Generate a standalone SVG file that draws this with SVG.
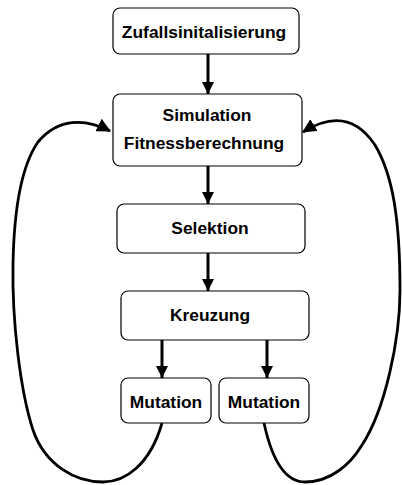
<svg xmlns="http://www.w3.org/2000/svg" width="402" height="485" viewBox="0 0 402 485">
<style>
.box{fill:#fff;stroke:#000;stroke-width:1.2}
.t{font-family:"Liberation Sans",Arial,sans-serif;font-weight:bold;font-size:17.4px;text-anchor:middle;fill:#000}
.a{fill:none;stroke:#000;stroke-width:3}
.l{fill:none;stroke:#000;stroke-width:2.8}
</style>
<defs>
<marker id="ah" markerUnits="userSpaceOnUse" markerWidth="12" markerHeight="12" refX="12" refY="6" orient="auto">
<path d="M0,0 L12,6 L0,12 z" fill="#000"/>
</marker>
<marker id="ah2" markerUnits="userSpaceOnUse" markerWidth="14" markerHeight="14" refX="13" refY="7" orient="auto">
<path d="M0,0 L14,7 L0,14 z" fill="#000"/>
</marker>
</defs>
<g id="connectors">
<line class="a" x1="208" y1="54" x2="208" y2="94" marker-end="url(#ah)"/>
<line class="a" x1="208" y1="166" x2="208" y2="204" marker-end="url(#ah)"/>
<line class="a" x1="208" y1="253" x2="208" y2="291" marker-end="url(#ah)"/>
<line class="a" x1="162" y1="340" x2="162" y2="378" marker-end="url(#ah)"/>
<line class="a" x1="267" y1="340" x2="267" y2="378" marker-end="url(#ah)"/>
<path class="l" d="M162,423 C150,465 125,482 103,482 C75,482 45,465 33,430 C20,390 12,320 13,265 C14,205 22,165 38,142 C58,118 85,118 110,131" marker-end="url(#ah2)"/>
<path class="l" d="M264,423 C272,460 285,482 305,482 C330,482 350,465 362,445 C385,410 400,340 400,290 C400,220 393,175 375,145 C355,115 330,115 303,132" marker-end="url(#ah2)"/>
</g>
<g id="n1"><rect class="box" x="113" y="8" width="186" height="46" rx="7"/><text class="t" x="204" y="38">Zufallsinitalisierung</text></g>
<g id="n2"><rect class="box" x="113" y="94" width="189" height="72" rx="7"/><text class="t" x="207" y="121">Simulation</text><text class="t" x="204" y="149">Fitnessberechnung</text></g>
<g id="n3"><rect class="box" x="117" y="204" width="188" height="49" rx="7"/><text class="t" x="210" y="234">Selektion</text></g>
<g id="n4"><rect class="box" x="121" y="291" width="188" height="49" rx="7"/><text class="t" x="210" y="321">Kreuzung</text></g>
<g id="n5"><rect class="box" x="121" y="378" width="90" height="45" rx="7"/><text class="t" x="166" y="408">Mutation</text></g>
<g id="n6"><rect class="box" x="219" y="378" width="90" height="45" rx="7"/><text class="t" x="264" y="408">Mutation</text></g>
</svg>
